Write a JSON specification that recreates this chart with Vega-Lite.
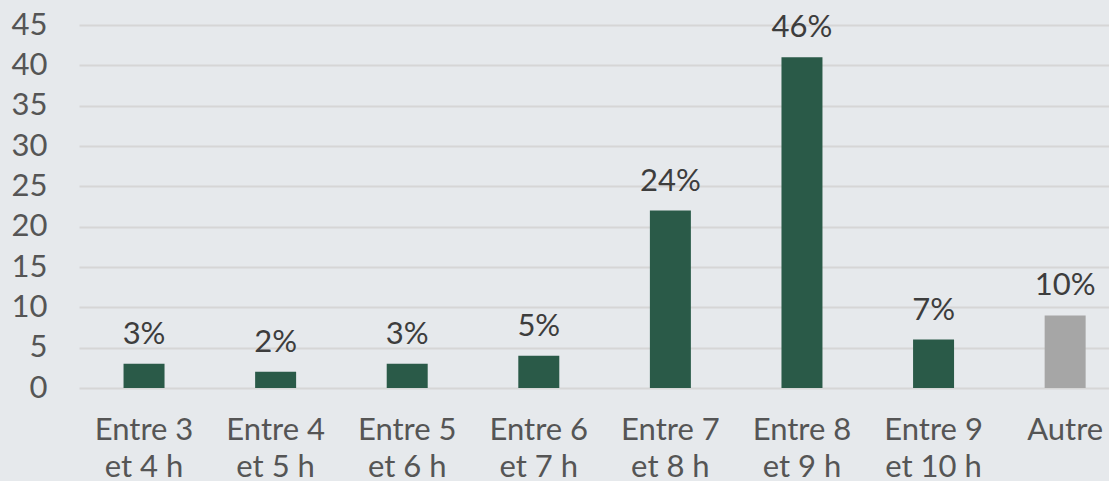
{
  "$schema": "https://vega.github.io/schema/vega-lite/v6.json",
  "autosize": "none",
  "width": 1030,
  "height": 363,
  "padding": {"left": 79, "top": 25, "right": 0, "bottom": 93},
  "background": "#e6e9ec",
  "config": {
    "view": {"stroke": null},
    "font": "Lato",
    "axis": {"labelFont": "Lato", "labelFontSize": 31, "labelColor": "#555555", "domain": false, "ticks": false, "tickSize": 0, "title": null}
  },
  "data": {
    "values": [
      {"cat": "Entre 3|et 4 h", "value": 3, "label": "3%", "grp": "a"},
      {"cat": "Entre 4|et 5 h", "value": 2, "label": "2%", "grp": "a"},
      {"cat": "Entre 5|et 6 h", "value": 3, "label": "3%", "grp": "a"},
      {"cat": "Entre 6|et 7 h", "value": 4, "label": "5%", "grp": "a"},
      {"cat": "Entre 7|et 8 h", "value": 22, "label": "24%", "grp": "a"},
      {"cat": "Entre 8|et 9 h", "value": 41, "label": "46%", "grp": "a"},
      {"cat": "Entre 9|et 10 h", "value": 6, "label": "7%", "grp": "a"},
      {"cat": "Autre", "value": 9, "label": "10%", "grp": "b"}
    ]
  },
  "encoding": {
    "x": {
      "field": "cat", "type": "nominal", "sort": null,
      "scale": {"paddingInner": 0.6885, "paddingOuter": 0.258, "align": 0.656},
      "axis": {"labelAngle": 0, "grid": false, "labelPadding": 27, "labelLineHeight": 37, "labelExpr": "split(datum.label, '|')", "labelBaseline": "top"}
    },
    "y": {
      "field": "value", "type": "quantitative",
      "scale": {"domain": [0, 45]},
      "axis": {"values": [0, 5, 10, 15, 20, 25, 30, 35, 40, 45], "grid": true, "gridColor": "#d6d6d6", "gridWidth": 2, "labelPadding": 32, "labelAlign": "right"}
    }
  },
  "layer": [
    {
      "mark": {"type": "bar"},
      "encoding": {
        "color": {"field": "grp", "type": "nominal", "scale": {"domain": ["a", "b"], "range": ["#2a5a48", "#a6a6a6"]}, "legend": null}
      }
    },
    {
      "mark": {"type": "text", "dy": -20, "baseline": "alphabetic", "fontSize": 31, "color": "#3d3d3d", "font": "Lato"},
      "encoding": {"text": {"field": "label"}}
    }
  ]
}
